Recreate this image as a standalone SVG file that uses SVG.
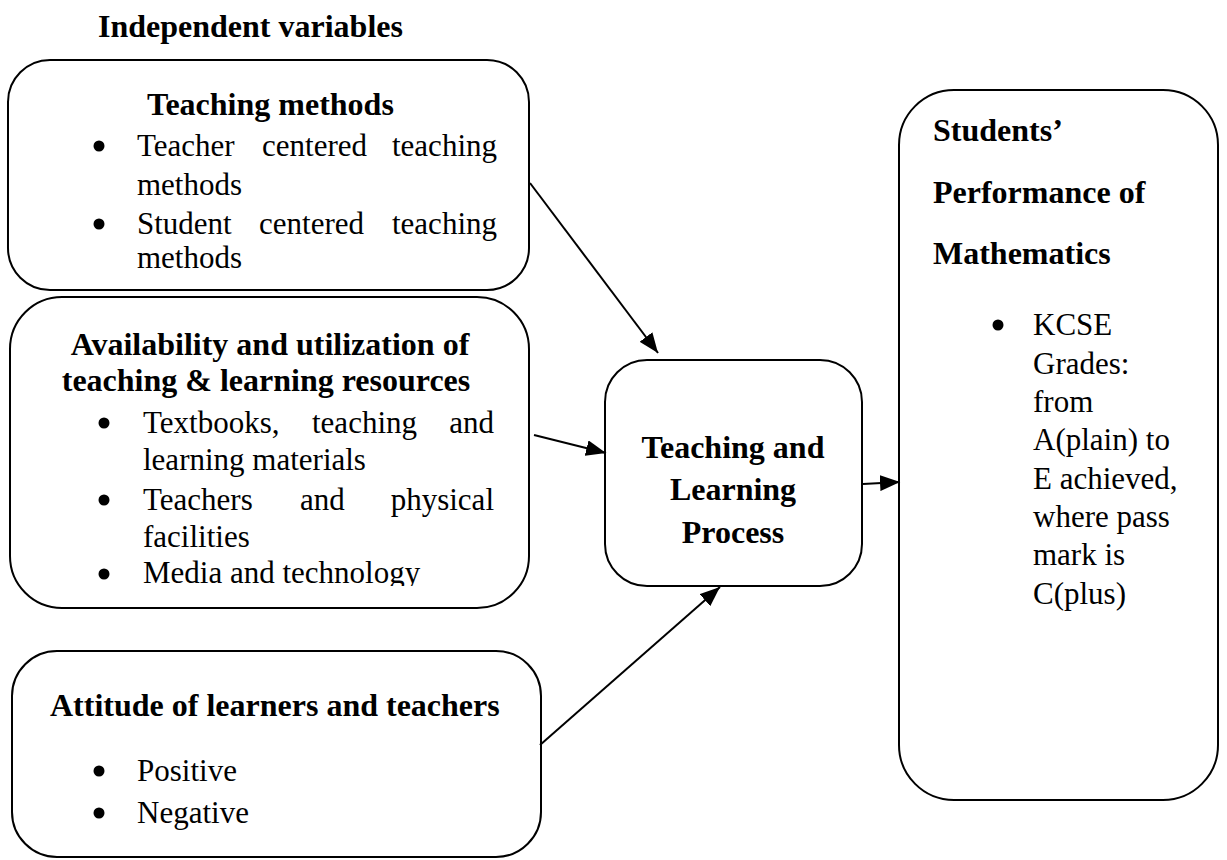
<svg xmlns="http://www.w3.org/2000/svg" width="1227" height="860" viewBox="0 0 1227 860">
<style>
.box{fill:#fff;stroke:#000;stroke-width:2}
.h{font-family:"Liberation Serif","Times New Roman",serif;font-weight:bold;font-size:32px;fill:#000}
.t{font-family:"Liberation Serif","Times New Roman",serif;font-size:31px;fill:#000}
.c{text-anchor:middle}
.e{text-anchor:end}
.b{fill:#000}
.ln{stroke:#000;stroke-width:2;fill:none}
</style>
<defs>
<marker id="ah" markerUnits="userSpaceOnUse" markerWidth="20" markerHeight="16" viewBox="0 0 20 16" refX="20" refY="8" orient="auto">
<path d="M0,0 L20,8 L0,16 z" fill="#000"/>
</marker>
<clipPath id="clip2"><rect x="0" y="0" width="1227" height="586"/></clipPath>
</defs>
<rect width="1227" height="860" fill="#fff"/>
<text class="h" x="98" y="37">Independent variables</text>

<g id="teaching-methods">
<rect class="box" x="8" y="60" width="521" height="230" rx="42"/>
<text class="h" x="147" y="115">Teaching methods</text>
<circle class="b" cx="99" cy="146" r="5.5"/>
<text class="t" x="137" y="156">Teacher</text>
<text class="t" x="262" y="156">centered</text>
<text class="t e" x="497" y="156">teaching</text>
<text class="t" x="137" y="195">methods</text>
<circle class="b" cx="99" cy="224" r="5.5"/>
<text class="t" x="137" y="234">Student</text>
<text class="t" x="259" y="234">centered</text>
<text class="t e" x="497" y="234">teaching</text>
<text class="t" x="137" y="268">methods</text>
</g>

<g id="resources">
<rect class="box" x="10" y="297" width="519" height="311" rx="52"/>
<text class="h c" x="270" y="355">Availability and utilization of</text>
<text class="h c" x="266" y="391">teaching &amp; learning resources</text>
<circle class="b" cx="104" cy="423" r="5.5"/>
<text class="t" x="143" y="433">Textbooks,</text>
<text class="t" x="312" y="433">teaching</text>
<text class="t e" x="494" y="433">and</text>
<text class="t" x="143" y="470">learning materials</text>
<circle class="b" cx="104" cy="500" r="5.5"/>
<text class="t" x="143" y="510">Teachers</text>
<text class="t" x="300" y="510">and</text>
<text class="t e" x="494" y="510">physical</text>
<text class="t" x="143" y="547">facilities</text>
<circle class="b" cx="104" cy="574" r="5.5"/>
<g clip-path="url(#clip2)">
<text class="t" x="143" y="583">Media and technology</text>
</g>
</g>

<g id="attitude">
<rect class="box" x="12" y="651" width="529" height="206" rx="45"/>
<text class="h" x="50" y="716">Attitude of learners and teachers</text>
<circle class="b" cx="99" cy="771" r="5.5"/>
<text class="t" x="137" y="781">Positive</text>
<circle class="b" cx="99" cy="813" r="5.5"/>
<text class="t" x="137" y="823">Negative</text>
</g>

<g id="process">
<rect class="box" x="605" y="360" width="257" height="226" rx="42"/>
<text class="h c" x="733" y="458">Teaching and</text>
<text class="h c" x="733" y="500">Learning</text>
<text class="h c" x="733" y="543">Process</text>
</g>

<g id="performance">
<rect class="box" x="899" y="90" width="319" height="710" rx="55"/>
<text class="h" x="933" y="141">Students’</text>
<text class="h" x="933" y="203">Performance of</text>
<text class="h" x="933" y="264">Mathematics</text>
<circle class="b" cx="998" cy="325" r="5.5"/>
<text class="t" x="1033" y="335">KCSE</text>
<text class="t" x="1033" y="374">Grades:</text>
<text class="t" x="1033" y="412">from</text>
<text class="t" x="1033" y="450">A(plain) to</text>
<text class="t" x="1033" y="489">E achieved,</text>
<text class="t" x="1033" y="527">where pass</text>
<text class="t" x="1033" y="565">mark is</text>
<text class="t" x="1033" y="604">C(plus)</text>
</g>

<g id="connectors">
<line class="ln" x1="530" y1="183" x2="658" y2="353" marker-end="url(#ah)"/>
<line class="ln" x1="534" y1="435" x2="606" y2="453" marker-end="url(#ah)"/>
<line class="ln" x1="540" y1="745" x2="720" y2="587" marker-end="url(#ah)"/>
<line class="ln" x1="863" y1="484" x2="900" y2="482" marker-end="url(#ah)"/>
</g>
</svg>
